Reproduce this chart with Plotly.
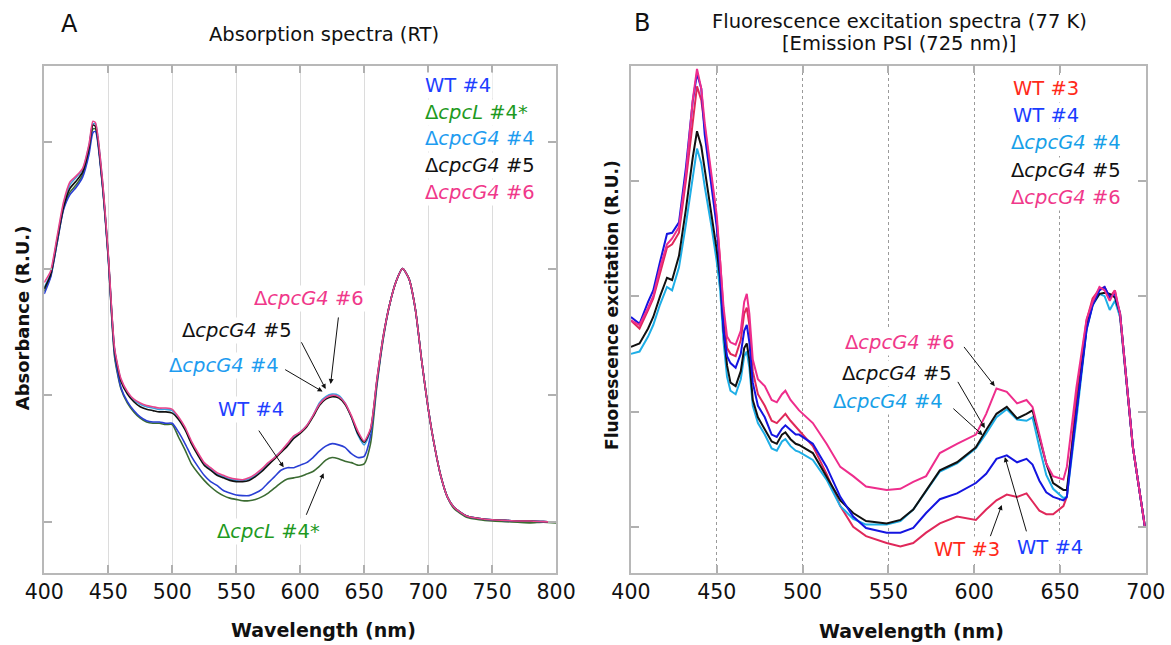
import plotly.graph_objects as go

W, H = 1171, 645

# ---------------- Panel A: absorption spectra (RT) ----------------
wl_a = [400, 405, 410, 415, 420, 425, 430, 435, 438, 440, 445, 450, 455, 460, 465, 470, 475,
        480, 485, 490, 495, 500, 505, 510, 515, 520, 525, 530, 535, 540, 545, 550, 555, 560,
        565, 570, 575, 580, 585, 590, 595, 600, 605, 610, 615, 620, 625, 630, 635, 640, 645,
        650, 655, 660, 665, 670, 675, 680, 685, 690, 695, 700, 705, 710, 715, 720, 725, 730,
        740, 750, 760, 770, 780, 790, 800]

a_wt4 = [1.80, 1.93, 2.20, 2.46, 2.58, 2.64, 2.72, 2.90, 3.07, 3.08, 2.70, 2.08, 1.32, 1.06, 0.95,
         0.88, 0.83, 0.80, 0.79, 0.79, 0.78, 0.78, 0.71, 0.62, 0.52, 0.44, 0.37, 0.32, 0.29, 0.25,
         0.23, 0.215, 0.21, 0.21, 0.23, 0.26, 0.31, 0.36, 0.41, 0.43, 0.43, 0.45, 0.47, 0.51, 0.56,
         0.60, 0.62, 0.61, 0.59, 0.54, 0.51, 0.52, 0.68, 1.10, 1.46, 1.72, 1.90, 2.00, 1.92, 1.68,
         1.27, 0.90, 0.60, 0.36, 0.20, 0.12, 0.08, 0.05, 0.03, 0.02, 0.015, 0.01, 0.01, 0.005, 0.0]

a_cpcl4 = [1.82, 1.94, 2.20, 2.47, 2.60, 2.66, 2.74, 2.93, 3.10, 3.10, 2.71, 2.09, 1.30, 1.05, 0.94,
           0.87, 0.82, 0.79, 0.78, 0.78, 0.77, 0.77, 0.67, 0.57, 0.46, 0.39, 0.33, 0.28, 0.24, 0.21,
           0.19, 0.18, 0.17, 0.17, 0.18, 0.20, 0.23, 0.27, 0.31, 0.34, 0.35, 0.36, 0.38, 0.40, 0.44,
           0.49, 0.51, 0.50, 0.48, 0.47, 0.45, 0.46, 0.62, 1.08, 1.45, 1.72, 1.90, 2.00, 1.92, 1.68,
           1.27, 0.90, 0.60, 0.36, 0.20, 0.11, 0.07, 0.04, 0.02, 0.01, 0.005, 0.0, -0.005, 0.0, -0.005]

a_g4_4 = [1.85, 1.96, 2.23, 2.50, 2.66, 2.72, 2.78, 2.97, 3.14, 3.14, 2.74, 2.11, 1.36, 1.12, 1.02,
          0.96, 0.93, 0.91, 0.90, 0.89, 0.89, 0.88, 0.82, 0.74, 0.63, 0.54, 0.46, 0.42, 0.38, 0.36,
          0.34, 0.33, 0.33, 0.34, 0.37, 0.41, 0.46, 0.51, 0.56, 0.61, 0.67, 0.71, 0.76, 0.84, 0.94,
          0.99, 1.01, 1.00, 0.94, 0.83, 0.69, 0.61, 0.72, 1.12, 1.47, 1.72, 1.90, 2.00, 1.92, 1.68,
          1.27, 0.90, 0.60, 0.36, 0.20, 0.12, 0.08, 0.05, 0.03, 0.02, 0.015, 0.01, 0.01, 0.005, 0.0]

a_g4_5 = [1.84, 1.95, 2.22, 2.48, 2.63, 2.69, 2.76, 2.95, 3.13, 3.12, 2.72, 2.10, 1.35, 1.11, 1.01,
          0.95, 0.91, 0.89, 0.88, 0.87, 0.87, 0.86, 0.81, 0.73, 0.62, 0.53, 0.45, 0.41, 0.37, 0.35,
          0.33, 0.32, 0.32, 0.33, 0.36, 0.40, 0.45, 0.50, 0.55, 0.60, 0.66, 0.70, 0.75, 0.83, 0.92,
          0.97, 0.99, 0.98, 0.93, 0.83, 0.70, 0.63, 0.73, 1.12, 1.47, 1.72, 1.90, 2.00, 1.92, 1.68,
          1.27, 0.90, 0.60, 0.36, 0.20, 0.12, 0.08, 0.05, 0.03, 0.02, 0.015, 0.01, 0.01, 0.005, 0.0]

a_g4_6 = [1.89, 1.98, 2.25, 2.52, 2.68, 2.73, 2.79, 2.98, 3.16, 3.15, 2.75, 2.12, 1.37, 1.13, 1.03,
          0.97, 0.94, 0.92, 0.91, 0.90, 0.90, 0.89, 0.83, 0.75, 0.64, 0.55, 0.47, 0.43, 0.39, 0.37,
          0.35, 0.34, 0.335, 0.35, 0.38, 0.42, 0.47, 0.51, 0.56, 0.62, 0.68, 0.71, 0.76, 0.84, 0.93,
          0.98, 1.00, 0.99, 0.94, 0.84, 0.72, 0.64, 0.74, 1.13, 1.47, 1.72, 1.90, 2.00, 1.92, 1.68,
          1.27, 0.90, 0.60, 0.36, 0.20, 0.12, 0.08, 0.05, 0.03, 0.02, 0.015, 0.01, 0.01, 0.005, 0.0]

# ---------------- Panel B: fluorescence excitation (77 K) ----------------
wl_b = [400, 405, 410, 413, 417, 421, 424, 428, 432, 436, 438.5, 441, 443, 447, 450, 452, 454,
        456, 458, 461, 464, 466, 467.5, 469, 471, 474, 478, 482, 485, 488, 490, 493, 496, 498,
        506, 514, 522, 529.5, 537, 549, 557, 564.5, 572, 580, 590, 601, 607, 613, 619, 625,
        630.5, 634, 638, 642, 646, 652, 654, 659.5, 665.5, 669, 673, 676, 679, 682, 685,
        692.5, 699.5]

b_wt3 = [1.79, 1.72, 1.88, 1.98, 2.20, 2.42, 2.45, 2.55, 3.00, 3.50, 3.82, 3.70, 3.45, 3.00, 2.65,
         2.30, 1.85, 1.55, 1.50, 1.48, 1.62, 1.85, 1.90, 1.75, 1.35, 1.15, 1.05, 0.92, 0.90, 0.95,
         0.98, 0.92, 0.87, 0.84,
         0.70, 0.46, 0.18, 0.00, -0.08, -0.14, -0.17, -0.14, -0.05, 0.03, 0.09, 0.06, 0.15, 0.23,
         0.28, 0.26, 0.29, 0.22, 0.14, 0.11, 0.11, 0.18, 0.26, 1.12, 1.79, 1.98, 2.06, 2.08,
         1.99, 2.05, 1.82, 0.69, 0.0]

b_wt4 = [1.82, 1.76, 1.95, 2.05, 2.30, 2.54, 2.55, 2.64, 3.11, 3.69, 3.93, 3.80, 3.40, 2.97, 2.60,
         2.20, 1.70, 1.48, 1.42, 1.38, 1.50, 1.70, 1.75, 1.60, 1.25, 1.05, 0.95, 0.80, 0.78, 0.85,
         0.88, 0.84, 0.80, 0.80,
         0.72, 0.52, 0.26, 0.09, -0.01, -0.05, -0.05, -0.01, 0.12, 0.24, 0.29, 0.38, 0.46, 0.59,
         0.62, 0.56, 0.59, 0.54, 0.40, 0.30, 0.26, 0.23, 0.26, 0.98, 1.71, 1.92, 2.05, 2.08,
         1.99, 2.02, 1.85, 0.69, 0.0]

b_g4_4 = [1.50, 1.52, 1.65, 1.75, 1.93, 2.08, 2.05, 2.25, 2.62, 3.05, 3.28, 3.15, 2.95, 2.60, 2.30,
          2.05, 1.60, 1.30, 1.18, 1.15, 1.28, 1.48, 1.52, 1.38, 1.05, 0.90, 0.80, 0.68, 0.66, 0.74,
          0.76, 0.70, 0.66, 0.65,
          0.58, 0.41, 0.18, 0.07, 0.02, 0.02, 0.05, 0.15, 0.31, 0.48, 0.55, 0.68, 0.81, 0.95,
          1.02, 0.93, 0.92, 0.95, 0.69, 0.45, 0.33, 0.25, 0.26, 0.92, 1.71, 1.92, 2.02, 2.00,
          1.88, 1.96, 1.82, 0.69, 0.0]

b_g4_5 = [1.56, 1.59, 1.72, 1.82, 2.00, 2.16, 2.14, 2.35, 2.75, 3.20, 3.43, 3.30, 3.10, 2.70, 2.40,
          2.15, 1.70, 1.40, 1.25, 1.22, 1.35, 1.55, 1.59, 1.45, 1.10, 0.95, 0.85, 0.74, 0.72, 0.80,
          0.82, 0.76, 0.72, 0.71,
          0.64, 0.44, 0.23, 0.12, 0.05, 0.03, 0.06, 0.15, 0.32, 0.49, 0.56, 0.69, 0.84, 0.98,
          1.04, 0.94, 0.98, 1.01, 0.78, 0.55, 0.38, 0.32, 0.32, 0.98, 1.73, 1.93, 2.02, 2.03,
          2.02, 1.99, 1.85, 0.69, 0.0]

b_g4_6 = [1.79, 1.75, 1.90, 2.00, 2.25, 2.45, 2.50, 2.60, 3.05, 3.70, 3.97, 3.80, 3.50, 3.05, 2.70,
          2.30, 1.90, 1.65, 1.60, 1.58, 1.70, 1.95, 2.02, 1.85, 1.45, 1.28, 1.22, 1.10, 1.08, 1.15,
          1.18, 1.10, 1.04, 1.01,
          0.90, 0.72, 0.52, 0.44, 0.35, 0.32, 0.33, 0.39, 0.44, 0.64, 0.72, 0.80, 0.98, 1.20,
          1.17, 1.07, 1.10, 1.04, 0.80, 0.55, 0.44, 0.41, 0.52, 1.20, 1.80, 1.95, 2.08, 2.05,
          1.96, 2.05, 1.85, 0.69, 0.0]

# ---------------- colours ----------------
LINE_A = {"wt4": "#2a3fd4", "cpcl": "#3b6b32", "g44": "#3aa0e0", "g45": "#111111", "g46": "#e8458c"}
TEXT_A = {"wt4": "#1f3fff", "cpcl": "#1f9a1f", "g44": "#1e9cf0", "g45": "#111111", "g46": "#f0388a"}
LINE_B = {"wt3": "#e0285a", "wt4": "#1414e0", "g44": "#1eaee6", "g45": "#111111", "g46": "#ee2d8c"}
TEXT_B = {"wt3": "#ff2a1a", "wt4": "#1a3cff", "g44": "#16a0e8", "g45": "#111111", "g46": "#f0388a"}

FONT = "DejaVu Sans"

# the page is photographed slightly narrower than the layout width; place in target pixels
def sx(X):
    return (X - 18.7) / 0.968

fig = go.Figure()

for y, key, name in [(a_cpcl4, "cpcl", "ΔcpcL #4*"), (a_wt4, "wt4", "WT #4"),
                     (a_g4_4, "g44", "ΔcpcG4 #4"), (a_g4_5, "g45", "ΔcpcG4 #5"),
                     (a_g4_6, "g46", "ΔcpcG4 #6")]:
    fig.add_trace(go.Scatter(x=wl_a, y=y, mode="lines", name=name,
                             line=dict(color=LINE_A[key], width=1.6, shape="spline", smoothing=0.6),
                             xaxis="x", yaxis="y", showlegend=False))

for y, key, name in [(b_wt3, "wt3", "WT #3"), (b_g4_4, "g44", "ΔcpcG4 #4"),
                     (b_g4_5, "g45", "ΔcpcG4 #5"), (b_wt4, "wt4", "WT #4"),
                     (b_g4_6, "g46", "ΔcpcG4 #6")]:
    fig.add_trace(go.Scatter(x=wl_b, y=y, mode="lines", name=name,
                             line=dict(color=LINE_B[key], width=2),
                             xaxis="x2", yaxis="y2", showlegend=False))

ydom = [1 - 573 / H, 1 - 65.5 / H]
axis_common = dict(showline=True, linecolor="#b8b8b8", linewidth=1.5, mirror="ticks",
                   ticks="inside", ticklen=8, tickcolor="#b0b0b0", tickwidth=1.5,
                   zeroline=False)

fig.update_layout(
    width=W, height=H, margin=dict(l=0, r=0, t=0, b=0),
    paper_bgcolor="white", plot_bgcolor="white",
    font=dict(family=FONT, color="#111111"),
    xaxis=dict(domain=[sx(43) / W, sx(556) / W], range=[400, 800],
               tickvals=list(range(400, 801, 50)),
               showgrid=True, gridcolor="#dcdcdc", gridwidth=1.2,
               tickfont=dict(size=20.5), anchor="y", **axis_common),
    yaxis=dict(domain=ydom, range=[-0.4, 3.6], tickvals=[0, 1, 2, 3], showticklabels=False,
               showgrid=False, anchor="x", **axis_common),
    xaxis2=dict(domain=[sx(631) / W, sx(1147) / W], range=[400, 700],
                tickvals=list(range(400, 701, 50)),
                showgrid=True, gridcolor="#9a9a9a", gridwidth=1, griddash="dot",
                tickfont=dict(size=20.5), anchor="y2", **axis_common),
    yaxis2=dict(domain=ydom, range=[-0.4, 4.0], tickvals=[0, 1, 2, 3], showticklabels=False,
                showgrid=False, anchor="x2", **axis_common),
)

ann = []

def paper_text(text, X, Y, size, bold=False, angle=0, color="#111111"):
    ann.append(dict(text=("<b>%s</b>" % text) if bold else text, x=sx(X) / W, y=1 - Y / H,
                    xref="paper", yref="paper", showarrow=False, textangle=angle,
                    font=dict(size=size, color=color, family=FONT),
                    xanchor="center", yanchor="middle"))

paper_text("A", 68, 24, 24)
paper_text("B", 642, 23, 24)
paper_text("Absorption spectra (RT)", 323, 35, 19.5)
paper_text("Fluorescence excitation spectra (77 K)", 900, 21, 19.5)
paper_text("[Emission PSI (725 nm)]", 900, 44, 19.5)
paper_text("Wavelength (nm)", 322.7, 630, 19, bold=True)
paper_text("Wavelength (nm)", 912.6, 631, 19, bold=True)
paper_text("Absorbance (R.U.)", 21, 318, 18, bold=True, angle=-90)
paper_text("Fluorescence excitation (R.U.)", 612, 305, 17, bold=True, angle=-90)


def label(text, x, y, color, xr, yr, anchor="center"):
    ann.append(dict(text=text, x=x, y=y, xref=xr, yref=yr, showarrow=False,
                    font=dict(size=19.5, color=color, family=FONT), bgcolor="white",
                    borderpad=1, xanchor=anchor, yanchor="middle"))


def arrow(x, y, ax, ay, xr, yr):
    ann.append(dict(text="", x=x, y=y, ax=ax, ay=ay, xref=xr, yref=yr, axref=xr, ayref=yr,
                    showarrow=True, arrowhead=2, arrowsize=1, arrowwidth=1, arrowcolor="#111111"))

G = "Δ<i>cpcG4</i>"
L = "Δ<i>cpcL</i>"

label("WT #4", 696, 3.441, TEXT_A["wt4"], "x", "y", "left")
label(L + " #4*", 696, 3.232, TEXT_A["cpcl"], "x", "y", "left")
label(G + " #4", 696, 3.023, TEXT_A["g44"], "x", "y", "left")
label(G + " #5", 696, 2.81, TEXT_A["g45"], "x", "y", "left")
label(G + " #6", 696, 2.597, TEXT_A["g46"], "x", "y", "left")

arrow(623.8, 1.09, 630.0, 1.626, "x", "y")
arrow(619.9, 1.05, 600.4, 1.43, "x", "y")
arrow(617.5, 1.03, 587.1, 1.21, "x", "y")
arrow(587.1, 0.434, 566.9, 0.734, "x", "y")
arrow(618.3, 0.387, 604.3, 0.047, "x", "y")
label(G + " #6", 607.2, 1.76, TEXT_A["g46"], "x", "y")
label(G + " #5", 551.0, 1.51, TEXT_A["g45"], "x", "y")
label(G + " #4", 540.6, 1.234, TEXT_A["g44"], "x", "y")
label("WT #4", 561.4, 0.892, TEXT_A["wt4"], "x", "y")
label(L + " #4*", 575.0, -0.069, TEXT_A["cpcl"], "x", "y")

label("WT #3", 621.3, 3.803, TEXT_B["wt3"], "x2", "y2", "left")
label("WT #4", 621.3, 3.57, TEXT_B["wt4"], "x2", "y2", "left")
label(G + " #4", 620.3, 3.332, TEXT_B["g44"], "x2", "y2", "left")
label(G + " #5", 620.3, 3.094, TEXT_B["g45"], "x2", "y2", "left")
label(G + " #6", 620.3, 2.857, TEXT_B["g46"], "x2", "y2", "left")

arrow(612.0, 1.219, 593.4, 1.573, "x2", "y2")
arrow(606.2, 0.856, 590.0, 1.27, "x2", "y2")
arrow(605.0, 0.795, 587.0, 1.037, "x2", "y2")
arrow(616.1, 0.19, 609.1, -0.095, "x2", "y2")
arrow(617.9, 0.605, 630.7, -0.052, "x2", "y2")
label(G + " #6", 557.0, 1.602, TEXT_B["g46"], "x2", "y2")
label(G + " #5", 555.3, 1.331, TEXT_B["g45"], "x2", "y2")
label(G + " #4", 549.5, 1.083, TEXT_B["g44"], "x2", "y2")
label("WT #3", 596.0, -0.199, TEXT_B["wt3"], "x2", "y2")
label("WT #4", 644.1, -0.18, TEXT_B["wt4"], "x2", "y2")

fig.update_layout(annotations=ann)
fig.write_html("out.html", config={"displayModeBar": False},
               post_script="document.body.style.margin='0';document.body.style.overflow='hidden';")
